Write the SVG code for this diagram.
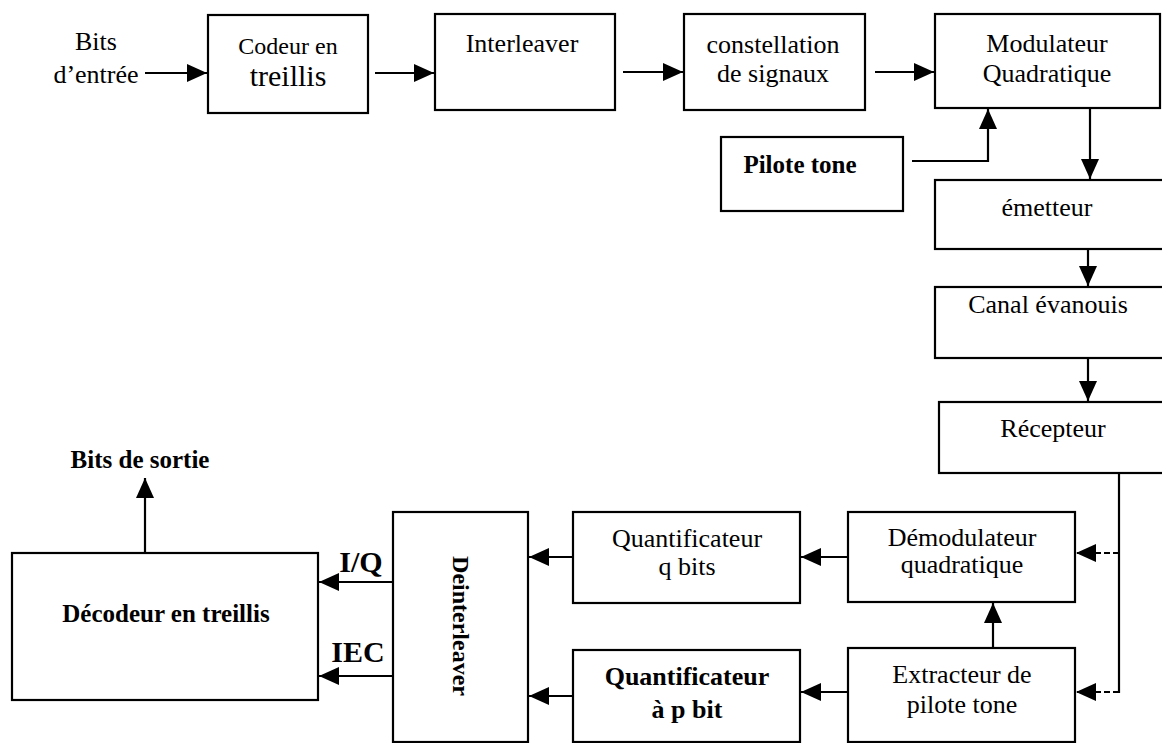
<svg xmlns="http://www.w3.org/2000/svg" width="1162" height="743" viewBox="0 0 1162 743">
<defs>
<marker id="ah" markerUnits="userSpaceOnUse" markerWidth="20" markerHeight="18" refX="20" refY="9" orient="auto">
<path d="M0,0 L20,9 L0,18 z" fill="#000"/>
</marker>
<style>
.box{fill:#fff;stroke:#000;stroke-width:2.2}
.t{font-family:"Liberation Serif","Times New Roman",serif;font-size:26px;fill:#000;text-anchor:middle}
.b{font-weight:bold}
.c{fill:none;stroke:#000;stroke-width:2.2}
.d{fill:none;stroke:#000;stroke-width:2;stroke-dasharray:6 3}
</style>
</defs>
<rect width="1162" height="743" fill="#fff"/>

<g id="bits-entree">
<text class="t" x="96" y="50">Bits</text>
<text class="t" x="96" y="83">d’entrée</text>
</g>
<g id="codeur">
<rect class="box" x="208" y="15" width="160" height="98"/>
<text class="t" x="288" y="54" style="font-size:24px">Codeur en</text>
<text class="t" x="288" y="86" style="font-size:30px">treillis</text>
</g>
<g id="interleaver">
<rect class="box" x="435" y="14" width="180" height="96"/>
<text class="t" x="522" y="52">Interleaver</text>
</g>
<g id="constellation">
<rect class="box" x="684" y="14" width="181" height="96"/>
<text class="t" x="773" y="53">constellation</text>
<text class="t" x="773" y="82">de signaux</text>
</g>
<g id="modulateur">
<rect class="box" x="935" y="14" width="225" height="94"/>
<text class="t" x="1047" y="52">Modulateur</text>
<text class="t" x="1047" y="82">Quadratique</text>
</g>
<g id="pilote">
<rect class="box" x="721" y="137" width="182" height="74"/>
<text class="t b" x="800" y="173" style="font-size:25px">Pilote tone</text>
</g>
<g id="emetteur">
<rect class="box" x="935" y="180" width="230" height="69"/>
<text class="t" x="1047" y="216">émetteur</text>
</g>
<g id="canal">
<rect class="box" x="935" y="287" width="230" height="71"/>
<text class="t" x="1048" y="313">Canal évanouis</text>
</g>
<g id="recepteur">
<rect class="box" x="939" y="402" width="226" height="71"/>
<text class="t" x="1053" y="437">Récepteur</text>
</g>
<g id="demodulateur">
<rect class="box" x="848" y="512" width="227" height="90"/>
<text class="t" x="962" y="546">Démodulateur</text>
<text class="t" x="962" y="573">quadratique</text>
</g>
<g id="extracteur">
<rect class="box" x="848" y="648" width="227" height="94"/>
<text class="t" x="962" y="683">Extracteur de</text>
<text class="t" x="962" y="713">pilote tone</text>
</g>
<g id="quant-q">
<rect class="box" x="573" y="512" width="227" height="91"/>
<text class="t" x="687" y="547">Quantificateur</text>
<text class="t" x="687" y="575">q bits</text>
</g>
<g id="quant-p">
<rect class="box" x="573" y="650" width="227" height="92"/>
<text class="t b" x="687" y="685">Quantificateur</text>
<text class="t b" x="687" y="718">à p bit</text>
</g>
<g id="deinterleaver">
<rect class="box" x="393" y="512" width="135" height="230"/>
<text class="t b" transform="translate(453,626) rotate(90)" style="font-size:24px">Deinterleaver</text>
</g>
<g id="decodeur">
<rect class="box" x="12" y="553" width="306" height="147"/>
<text class="t b" x="166" y="622" style="font-size:25px">Décodeur en treillis</text>
</g>
<g id="bits-sortie">
<text class="t b" x="140" y="468" style="font-size:25px">Bits de sortie</text>
</g>
<g id="labels">
<text class="t b" x="361" y="572" style="font-size:30px">I/Q</text>
<text class="t b" x="358" y="662" style="font-size:30px">IEC</text>
</g>

<g id="connectors">
<line class="c" x1="145" y1="73" x2="207" y2="73" marker-end="url(#ah)"/>
<line class="c" x1="375" y1="73" x2="434" y2="73" marker-end="url(#ah)"/>
<line class="c" x1="623" y1="72" x2="683" y2="72" marker-end="url(#ah)"/>
<line class="c" x1="875" y1="72" x2="934" y2="72" marker-end="url(#ah)"/>
<polyline class="c" points="912,161 988,161 988,109" marker-end="url(#ah)"/>
<line class="c" x1="1090" y1="108" x2="1090" y2="179" marker-end="url(#ah)"/>
<line class="c" x1="1088" y1="249" x2="1088" y2="286" marker-end="url(#ah)"/>
<line class="c" x1="1088" y1="358" x2="1088" y2="401" marker-end="url(#ah)"/>
<line class="c" x1="1119" y1="473" x2="1119" y2="693"/>
<line class="d" x1="1119" y1="553" x2="1076" y2="553" marker-end="url(#ah)"/>
<line class="d" x1="1119" y1="692" x2="1076" y2="692" marker-end="url(#ah)"/>
<line class="c" x1="848" y1="557" x2="801" y2="557" marker-end="url(#ah)"/>
<line class="c" x1="573" y1="557" x2="529" y2="557" marker-end="url(#ah)"/>
<line class="c" x1="993" y1="648" x2="993" y2="603" marker-end="url(#ah)"/>
<line class="c" x1="848" y1="692" x2="801" y2="692" marker-end="url(#ah)"/>
<line class="c" x1="573" y1="696" x2="529" y2="696" marker-end="url(#ah)"/>
<line class="c" x1="393" y1="582" x2="319" y2="582" marker-end="url(#ah)"/>
<line class="c" x1="393" y1="676" x2="319" y2="676" marker-end="url(#ah)"/>
<line class="c" x1="145" y1="553" x2="145" y2="478" marker-end="url(#ah)"/>
</g>
</svg>
